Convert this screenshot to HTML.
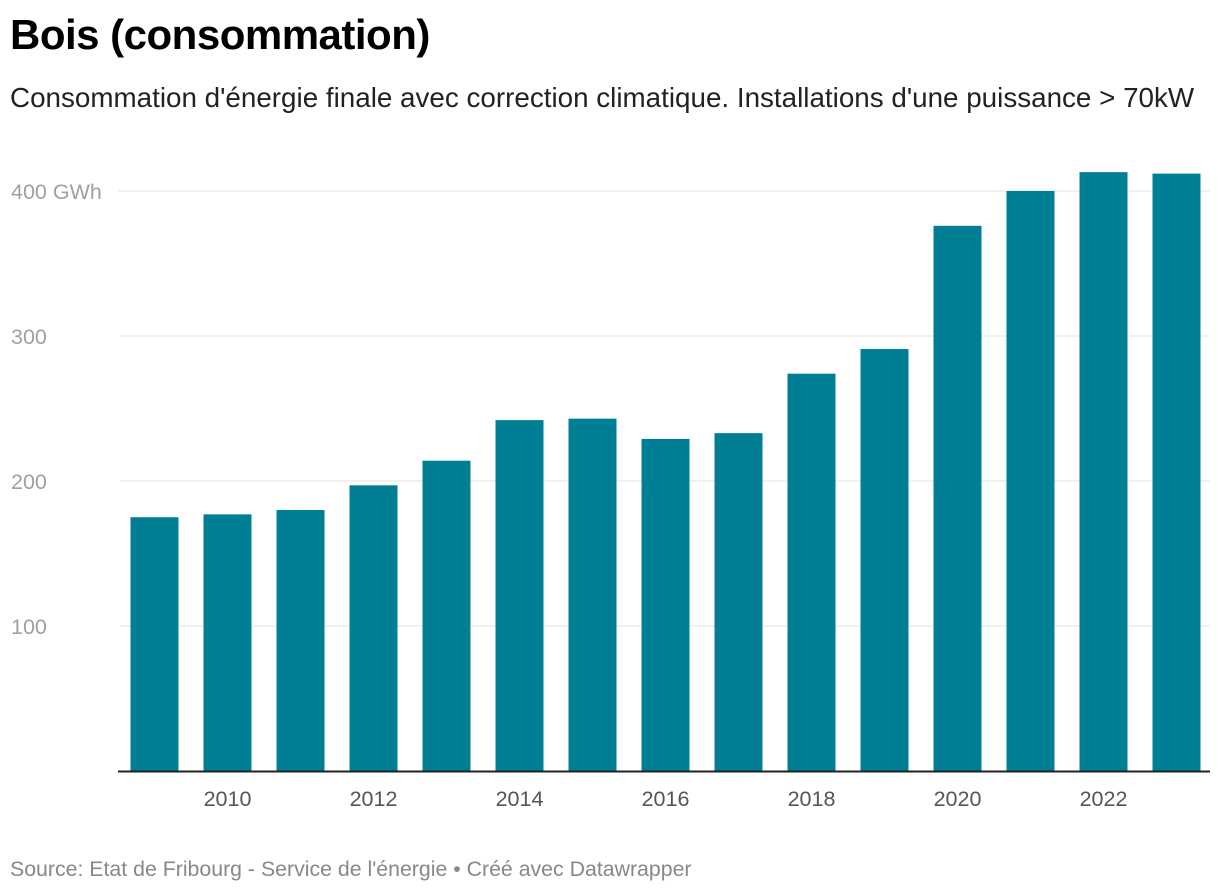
<!DOCTYPE html>
<html><head><meta charset="utf-8">
<style>
body{margin:0;background:#fff;font-family:"Liberation Sans",Arial,sans-serif;}
#wrap{position:relative;width:1220px;height:894px;overflow:hidden;}
h1{position:absolute;left:10px;top:11px;margin:0;font-size:42px;font-weight:bold;color:#000;letter-spacing:-0.5px;}
.sub{position:absolute;left:10px;top:82px;font-size:27.8px;color:#222;white-space:nowrap;}
.src{position:absolute;left:10px;top:857px;font-size:21.3px;color:#888;white-space:nowrap;}
</style></head><body>
<div id="wrap">
<h1>Bois (consommation)</h1>
<div class="sub">Consommation d'énergie finale avec correction climatique. Installations d'une puissance &gt; 70kW</div>
<svg id="chart" width="1220" height="894" style="position:absolute;left:0;top:0"></svg>
<div class="src">Source: Etat de Fribourg - Service de l'énergie • Créé avec Datawrapper</div>
</div>
<script>
const years=[2009,2010,2011,2012,2013,2014,2015,2016,2017,2018,2019,2020,2021,2022,2023];
const values=[175,177,180,197,214,242,243,229,233,274,291,376,400,413,412];
const yTicks=[100,200,300,400];
const yTickLabels=["100","200","300","400 GWh"];
const xTickYears=[2010,2012,2014,2016,2018,2020,2022];

const NS="http://www.w3.org/2000/svg";
const svg=document.getElementById('chart');
const y0=771, pxPer=1.45, xStart=118, step=73, bw=48;
const y=v=>y0-v*pxPer;
const xc=i=>xStart+step*i+36.5;
function mk(t,a){const e=document.createElementNS(NS,t);for(const k in a)e.setAttribute(k,a[k]);svg.appendChild(e);return e;}
yTicks.forEach((t,i)=>{
  const lbl=yTickLabels[i];
  const g=mk('line',{x1:lbl.length>4?118:120,x2:1210,y1:y(t),y2:y(t),stroke:'#e2e2e2','stroke-width':1});
  
  
  const tx=mk('text',{x:11,y:y(t)+8,'font-size':21.5,fill:'#a0a0a0','font-family':'Liberation Sans, Arial, sans-serif'});
  tx.textContent=lbl;
  
  
});
years.forEach((yr,i)=>{
  const r=mk('rect',{x:xc(i)-bw/2,y:y(values[i]),width:bw,height:values[i]*pxPer,fill:'#007f94'});
  
  
  if(xTickYears.includes(yr)){
    const t=mk('text',{x:xc(i),y:806,'text-anchor':'middle','font-size':21.5,fill:'#555','font-family':'Liberation Sans, Arial, sans-serif'});
    t.textContent=yr;
    
    
  }
});
const ax=mk('line',{x1:118,x2:1210,y1:y0+0.5,y2:y0+0.5,stroke:'#222','stroke-width':2});


</script>
</body></html>
